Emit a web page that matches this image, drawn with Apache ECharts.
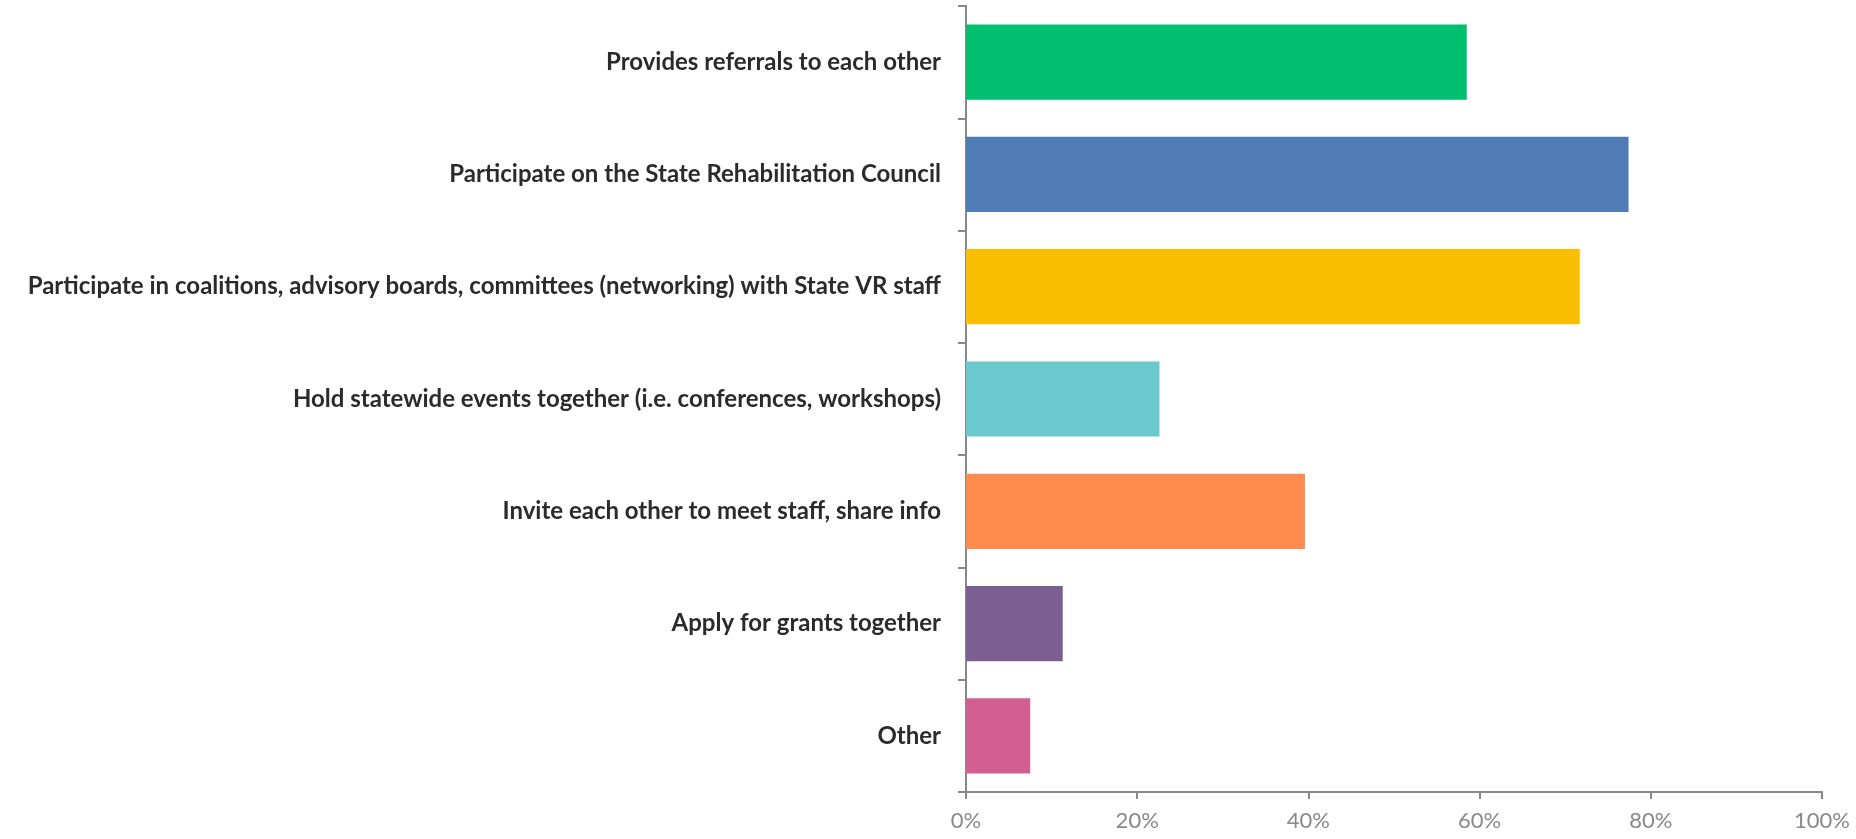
<!DOCTYPE html>
<html>
<head>
<meta charset="utf-8">
<script src="https://cdn.jsdelivr.net/npm/echarts@6/dist/echarts.min.js"></script>
<style>
  html, body { margin: 0; padding: 0; background: #ffffff; }
  #chart { width: 1856px; height: 839px; }
</style>
</head>
<body>
<div id="chart"></div>
<script>
const categories = [
  "Provides referrals to each other",
  "Participate on the State Rehabilitation Council",
  "Participate in coalitions, advisory boards, committees (networking) with State VR staff",
  "Hold statewide events together (i.e. conferences, workshops)",
  "Invite each other to meet staff, share info",
  "Apply for grants together",
  "Other"
];
const values = [58.5, 77.4, 71.7, 22.6, 39.6, 11.3, 7.5];
const barColors = ["#00BF6F", "#507CB6", "#F9BE00", "#6BC8CD", "#FF8B4F", "#7D5E90", "#D25F90"];
const xTicks = { min: 0, max: 100, interval: 20 };

const chart = echarts.init(document.getElementById('chart'), null, { renderer: 'canvas' });
const axisGray = '#888888';
chart.setOption({
  animation: false,
  backgroundColor: '#ffffff',
  grid: { left: 966, right: 34, top: 6, bottom: 47, containLabel: false },
  xAxis: {
    type: 'value',
    min: xTicks.min, max: xTicks.max, interval: xTicks.interval,
    splitLine: { show: false },
    axisLine: { show: true, lineStyle: { color: axisGray, width: 2 } },
    axisTick: { show: true, length: 7, lineStyle: { color: axisGray, width: 2 } },
    axisLabel: { formatter: '{value}%', color: '#888888', fontFamily: 'Lato', fontSize: 22, margin: 18 }
  },
  yAxis: {
    type: 'category',
    data: categories,
    inverse: true,
    axisLine: { show: true, lineStyle: { color: axisGray, width: 2 } },
    axisTick: { show: true, length: 8, lineStyle: { color: axisGray, width: 2 } },
    axisLabel: { color: '#2b2b2b', fontFamily: 'Lato', fontWeight: 'bold', fontSize: 24, margin: 25 }
  },
  series: [{
    type: 'bar',
    data: values.map((v, i) => ({ value: v, itemStyle: { color: barColors[i] } })),
    barCategoryGap: '33%'
  }]
});
</script>
</body>
</html>
